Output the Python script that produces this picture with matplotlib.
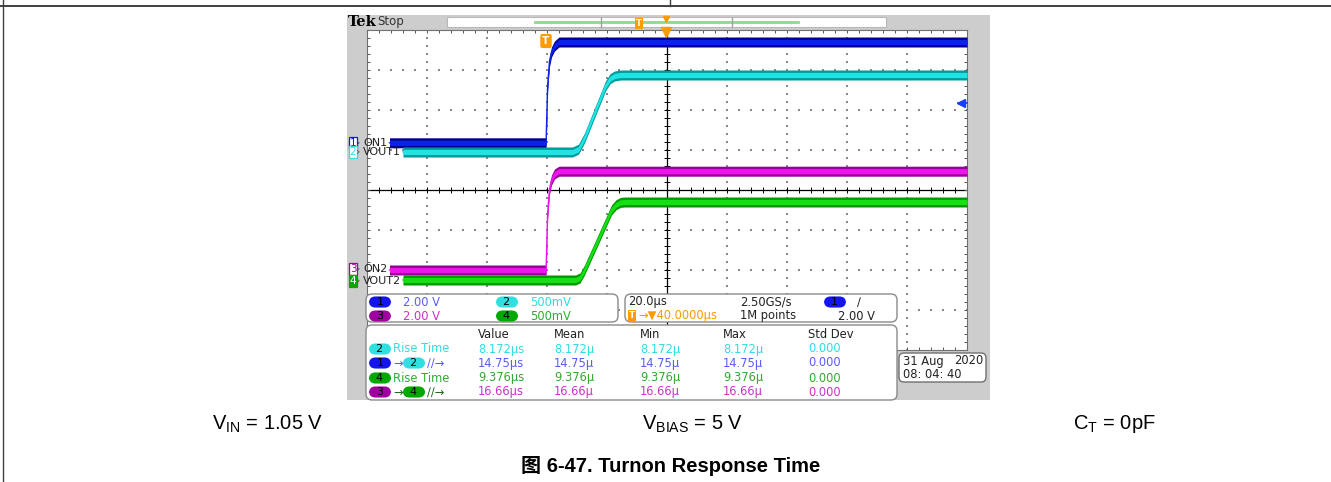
"""
Tek scope screenshot: turn-on response time (ON1/VOUT1, ON2/VOUT2).
Redrawn with matplotlib, saved as out.png (1331 x 482).
"""

import numpy as np
import matplotlib
matplotlib.use("Agg")
import matplotlib.pyplot as plt
from matplotlib.patches import Rectangle, FancyBboxPatch

plt.rcParams["font.family"] = ["Liberation Sans", "Noto Sans CJK SC", "DejaVu Sans"]

W, H = 1331, 482
SCOPE_FONT = "DejaVu Sans"

# ── scope settings ────────────────────────────────────────────────────
TIME_PER_DIV = 20.0            # µs / div
T_LEFT, T_RIGHT = -60.0, 140.0  # trigger at t = 0, 40 µs left of centre
V_DIVS = 4                     # ±4 divisions

# ── traces: time (µs) vs screen divisions ─────────────────────────────
on1_t = [-52.5, -0.3, 0.2, 0.8, 1.5, 2.5, 4.0, 140]
on1_v = [1.18, 1.18, 2.6, 3.2, 3.45, 3.6, 3.7, 3.7]

vout1_t = [-48, 8.5, 10.5, 12.5, 19.5, 21, 22.5, 24.5, 140]
vout1_v = [0.95, 0.95, 1.02, 1.3, 2.6, 2.78, 2.85, 2.875, 2.875]

on2_t = [-52.5, -0.3, 0.2, 0.8, 1.5, 2.5, 4.0, 140]
on2_v = [-2.0, -2.0, -0.6, 0.0, 0.25, 0.4, 0.47, 0.47]

vout2_t = [-48, 9.5, 11, 12.5, 21.5, 23, 24.5, 26, 140]
vout2_v = [-2.25, -2.25, -2.2, -2.0, -0.5, -0.37, -0.31, -0.3, -0.3]

# ── readouts ──────────────────────────────────────────────────────────
ch_names = ["ON1", "VOUT1", "ON2", "VOUT2"]
ch_scales = ["2.00 V", "500mV", "2.00 V", "500mV"]
horiz_scale = "20.0\u00b5s"
sample_rate = "2.50GS/s"
trig_pos = "\u2192\u25bc40.0000\u00b5s"
record_len = "1M points"
trig_level = "2.00 V"

meas_cols = ["Value", "Mean", "Min", "Max", "Std Dev"]
meas_rise1 = ["8.172\u00b5s", "8.172\u00b5", "8.172\u00b5", "8.172\u00b5", "0.000"]
meas_delay1 = ["14.75\u00b5s", "14.75\u00b5", "14.75\u00b5", "14.75\u00b5", "0.000"]
meas_rise2 = ["9.376\u00b5s", "9.376\u00b5", "9.376\u00b5", "9.376\u00b5", "0.000"]
meas_delay2 = ["16.66\u00b5s", "16.66\u00b5", "16.66\u00b5", "16.66\u00b5", "0.000"]

date_line1 = ("31 Aug", "2020")
date_line2 = "08: 04: 40"

cond_labels = [r"V$_\mathregular{IN}$ = 1.05 V", r"V$_\mathregular{BIAS}$ = 5 V",
               r"C$_\mathregular{T}$ = 0pF"]
caption = "图 6-47. Turnon Response Time"

# colours
TRACE_BRIGHT = ["#0c22e8", "#20e4e4", "#ee14ee", "#14e014"]
TRACE_DARK = ["#00008c", "#009a9a", "#960096", "#009a00"]
BADGE = ["#1414ee", "#30e0e0", "#a000a0", "#00a800"]
READ_TXT = ["#5a5aff", "#30dde0", "#cc30cc", "#30aa30"]
ORANGE = "#ff9a00"

fig = plt.figure(figsize=(W / 100, H / 100), dpi=100)

# ── page background layer (pixel coords) ──────────────────────────────
bg = fig.add_axes([0, 0, 1, 1], zorder=0)
bg.set_xlim(0, W)
bg.set_ylim(H, 0)
bg.axis("off")
bg.plot([3, 3], [0, H], color="#404040", lw=1)
bg.plot([0, W], [5.5, 5.5], color="#404040", lw=1.4)
bg.plot([670, 670], [0, 5.5], color="#404040", lw=1)
bg.add_patch(Rectangle((347, 15), 643, 385, fc="#cdcdcd", ec="none"))

for x, lab in zip([268, 693, 1114], cond_labels):
    bg.text(x, 424, lab, ha="center", va="center", fontsize=14.5, color="black")
bg.text(671, 466, caption, ha="center", va="center", fontsize=14.5,
        fontweight="bold", color="black")

# ── graticule ─────────────────────────────────────────────────────────
g = fig.add_axes([367 / W, 1 - 350 / H, 600 / W, 320 / H], zorder=1)
g.set_xlim(T_LEFT, T_RIGHT)
g.set_ylim(-V_DIVS, V_DIVS)
g.set_facecolor("white")
g.set_xticks([])
g.set_yticks([])
for s in g.spines.values():
    s.set_color("#707070")
    s.set_linewidth(0.8)

minor_x = np.arange(T_LEFT, T_RIGHT + 0.1, TIME_PER_DIV / 5)
minor_y = np.arange(-V_DIVS, V_DIVS + 0.01, 0.2)
centre_t = (T_LEFT + T_RIGHT) / 2
for x in np.arange(T_LEFT + TIME_PER_DIV, T_RIGHT, TIME_PER_DIV):
    if x != centre_t:
        g.scatter(np.full_like(minor_y, x), minor_y, s=0.8, marker="s",
                  color="#8a8a8a", lw=0)
for y in range(-V_DIVS + 1, V_DIVS):
    if y != 0:
        g.scatter(minor_x, np.full_like(minor_x, y), s=0.8, marker="s",
                  color="#8a8a8a", lw=0)

g.axvline(centre_t, color="black", lw=0.9)
g.axhline(0, color="black", lw=0.9)
g.plot(minor_x, np.zeros_like(minor_x), ls="none", marker="|", ms=4.5,
       color="black", mew=0.7)
g.plot(np.full_like(minor_y, centre_t), minor_y, ls="none", marker="_", ms=4.5,
       color="black", mew=0.7)
for y in (-V_DIVS, V_DIVS):
    g.plot(minor_x, np.full_like(minor_x, y), ls="none", marker="|", ms=5,
           color="#555555", mew=0.7)
for x in (T_LEFT, T_RIGHT):
    g.plot(np.full_like(minor_y, x), minor_y, ls="none", marker="_", ms=5,
           color="#555555", mew=0.7)

for i, (t, v) in enumerate([(on1_t, on1_v), (vout1_t, vout1_v),
                            (on2_t, on2_v), (vout2_t, vout2_v)]):
    t = np.array(t)
    v = np.array(v)
    g.fill_between(t, v - 0.125, v + 0.125, color=TRACE_DARK[i], lw=0, zorder=3)
    g.fill_between(t, v - 0.065, v + 0.065, color=TRACE_BRIGHT[i], lw=0, zorder=4)
    g.plot(t, v, color=TRACE_BRIGHT[i], lw=1, zorder=4)

# ── overlay: header, markers, readouts (pixel coords) ─────────────────
ov = fig.add_axes([0, 0, 1, 1], zorder=2)
ov.set_xlim(0, W)
ov.set_ylim(H, 0)
ov.axis("off")
ov.patch.set_alpha(0)

ov.text(348, 22, "Tek", ha="left", va="center", fontsize=10.5, fontweight="bold",
        family="DejaVu Serif", color="black")
ov.text(377, 22, "Stop", ha="left", va="center", fontsize=8.5, family=SCOPE_FONT,
        color="#333333")
ov.add_patch(Rectangle((447, 17), 439, 10, fc="white", ec="#b8b8b8", lw=0.8))
ov.plot([535, 798], [22, 22], color="#8fd88f", lw=2)
for x in (601, 732):
    ov.plot([x, x], [17.5, 26.5], color="#a0a0a0", lw=1)
ov.text(639, 23.5, "T", ha="center", va="center", fontsize=6, color="white",
        family=SCOPE_FONT, fontweight="bold",
        bbox=dict(boxstyle="square,pad=0.15", fc=ORANGE, ec="none"))
ov.plot(666, 18.5, marker="v", ms=4, color=ORANGE, ls="none")
ov.plot(666, 32, marker="v", ms=6.5, color=ORANGE, ls="none")
ov.text(546, 41, "T", ha="center", va="center", fontsize=7.5, color="white",
        family=SCOPE_FONT, fontweight="bold",
        bbox=dict(boxstyle="round,pad=0.2,rounding_size=0.2", fc=ORANGE, ec="none"))
ov.plot([958, 967], [103, 103], color="#1a3cff", lw=1.2)
ov.plot(961, 103, marker="<", ms=5.5, color="#1a3cff", ls="none")

# channel markers on the left edge
for i, (y, name) in enumerate(zip([143, 152, 269, 281], ch_names)):
    filled = i == 3
    ov.text(353, y, str(i + 1), ha="center", va="center", fontsize=7.5,
            family=SCOPE_FONT, color="white" if filled else BADGE[i],
            bbox=dict(boxstyle="square,pad=0.1", fc=BADGE[i] if filled else "white",
                      ec=BADGE[i], lw=0.9))
    ov.text(358.5, y, "\u203a", ha="center", va="center", fontsize=8,
            family=SCOPE_FONT, color="#555555")
    ov.text(363, y, name, ha="left", va="center", fontsize=8,
            family=SCOPE_FONT, color="#222222")


def badge(x, y, n):
    ov.text(x, y, f"  {n}  ", ha="center", va="center", fontsize=8,
            family=SCOPE_FONT, color="black",
            bbox=dict(boxstyle="round,pad=0.05,rounding_size=0.6",
                      fc=BADGE[n - 1], ec="none"))


def txt(x, y, s, color, ha="left"):
    ov.text(x, y, s, ha=ha, va="center", fontsize=8.3, family=SCOPE_FONT,
            color=color)


for x0, y0, w, h in [(366, 294, 252, 28), (625, 294, 272, 28), (366, 325, 531, 75)]:
    ov.add_patch(FancyBboxPatch((x0, y0), w, h, boxstyle="round,pad=0,rounding_size=6",
                                fc="white", ec="#8a8a8a", lw=1))

# vertical scales
for i, (bx, by) in enumerate([(380, 302), (507, 302), (380, 316), (507, 316)]):
    ch = [1, 2, 3, 4][i]
    badge(bx, by, ch)
    txt(bx + 23, by, ch_scales[ch - 1], READ_TXT[ch - 1])

# horizontal / trigger
txt(628, 302, horiz_scale, "#222222")
txt(740, 302, sample_rate, "#222222")
badge(835, 302, 1)
txt(857, 302, "\u2215", "#222222")
ov.text(632, 316, "T", ha="center", va="center", fontsize=6.5, color="white",
        family=SCOPE_FONT, fontweight="bold",
        bbox=dict(boxstyle="square,pad=0.12", fc=ORANGE, ec="none"))
txt(638, 316, trig_pos, ORANGE)
txt(740, 316, record_len, "#222222")
txt(838, 316, trig_level, "#222222")

# measurements
col_x = [478, 554, 640, 723, 808]
for x, c in zip(col_x, meas_cols):
    txt(x, 334, c, "#222222")

rows = [(349, meas_rise1, READ_TXT[1]), (363, meas_delay1, READ_TXT[0]),
        (378, meas_rise2, READ_TXT[3]), (392, meas_delay2, READ_TXT[2])]
for y, vals, col in rows:
    for x, v in zip(col_x, vals):
        txt(x, y, v, col)

badge(380, 349, 2)
txt(393, 349, "Rise Time", READ_TXT[1])
badge(380, 363, 1)
txt(393, 363, "\u2192", READ_TXT[0])
badge(414, 363, 2)
txt(427, 363, "\u2215\u2215\u2192", READ_TXT[0])
badge(380, 378, 4)
txt(393, 378, "Rise Time", READ_TXT[3])
badge(380, 392, 3)
txt(393, 392, "\u2192", "#226622")
badge(414, 392, 4)
txt(427, 392, "\u2215\u2215\u2192", "#226622")

# date box
ov.add_patch(FancyBboxPatch((899, 353), 87, 29, boxstyle="round,pad=0,rounding_size=5",
                            fc="white", ec="#707070", lw=1))
txt(903, 361, date_line1[0], "#222222")
txt(983, 361, date_line1[1], "#222222", ha="right")
txt(903, 375, date_line2, "#222222")

fig.savefig("out.png", dpi=100)
